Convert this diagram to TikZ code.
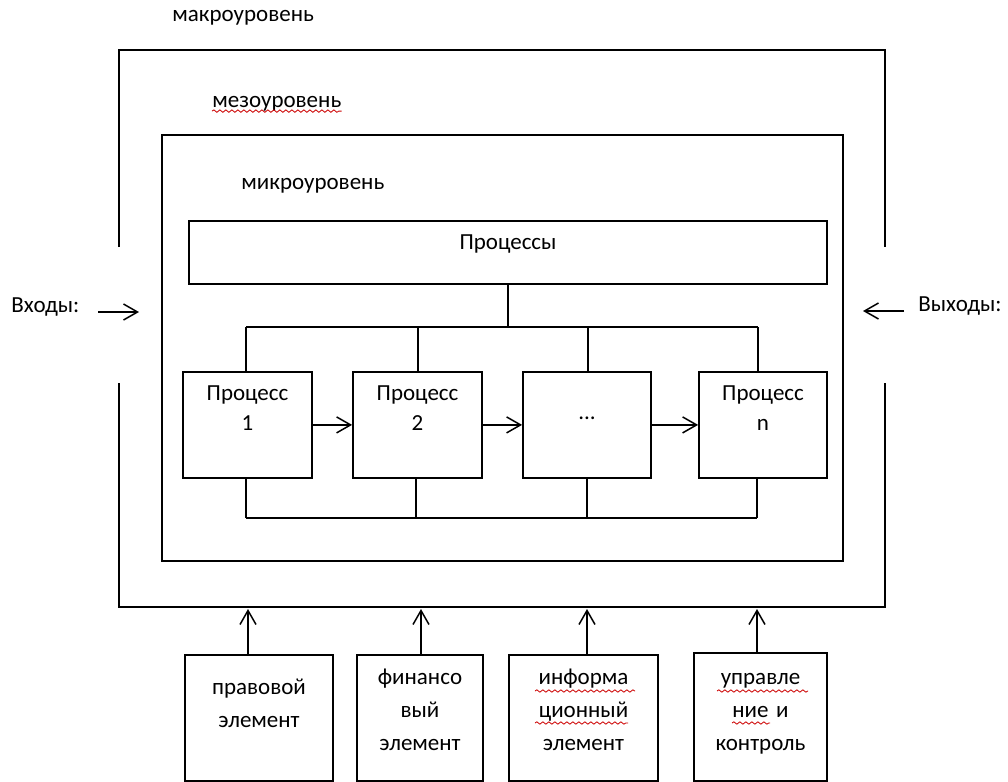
\documentclass[tikz,border=0pt]{standalone}
\usepackage{fontspec}
\setmainfont{Carlito}
\usetikzlibrary{arrows.meta,decorations.pathmorphing}

\begin{document}
\begin{tikzpicture}[x=0.5pt,y=-0.5pt]
\tikzstyle{every node}=[inner sep=0pt, align=center, font=\fontsize{11.5}{15}\selectfont]
\tikzstyle{frame}=[line width=0.9pt]
\tikzstyle{box}=[draw, line width=0.9pt, anchor=north]
\tikzstyle{elbox}=[box, font=\fontsize{11.5}{16.5}\selectfont]
\tikzstyle{arr}=[line width=0.75pt, -{Straight Barb[length=7pt,width=8pt]}]
\tikzstyle{spell}=[red!80!black, line width=0.4pt, decorate, decoration={snake, amplitude=0.6pt, segment length=3pt}]
\useasboundingbox (0,0) rectangle (1008,782);

% levels
\draw[frame] (119,247) -- (119,50) -- (885,50) -- (885,247);
\draw[frame] (119,383) -- (119,607) -- (885,607) -- (885,383);
\draw[frame] (162,135) rectangle (843,561);
\node (macro) at (172,21) [anchor=base west] {макроуровень};
\node (meso) at (212,107) [anchor=base west] {мезоуровень};
\node (micro) at (241,189) [anchor=base west] {микроуровень};
\draw[spell] (meso.south west) -- (meso.south east);

% processes
\node (procs) at (508,220) [box, text width=319pt, text height=14.5pt, text depth=17pt] {Процессы};
\node (p1) at (247.5,371) [box, text width=64.5pt, text height=14.5pt, text depth=38.5pt] {Процесс\\1};
\node (p2) at (417.5,371) [box, text width=64.5pt, text height=14.5pt, text depth=38.5pt] {Процесс\\2};
\node (p3) at (587,371) [box, text width=64pt, text height=24pt, text depth=29pt] {...};
\node (pn) at (763,371) [box, text width=64pt, text height=14.5pt, text depth=38.5pt] {Процесс\\n};

\coordinate (t1) at (246,327);
\coordinate (t2) at (418,327);
\coordinate (t3) at (588,327);
\coordinate (t4) at (758,327);
\draw[frame] (procs.south) -- (procs.south |- t1);
\draw[frame] (t1) -- (t4);
\draw[frame] (t1) -- (t1 |- p1.north);
\draw[frame] (t2) -- (t2 |- p2.north);
\draw[frame] (t3) -- (t3 |- p3.north);
\draw[frame] (t4) -- (t4 |- pn.north);

\coordinate (b1) at (246,518);
\coordinate (b2) at (416,518);
\coordinate (b3) at (587,518);
\coordinate (b4) at (757,518);
\draw[frame] (b1) -- (b4);
\draw[frame] (b1) -- (b1 |- p1.south);
\draw[frame] (b2) -- (b2 |- p2.south);
\draw[frame] (b3) -- (b3 |- p3.south);
\draw[frame] (b4) -- (b4 |- pn.south);

\draw[arr] (p1) -- (p2);
\draw[arr] (p2) -- (p3);
\draw[arr] (p3) -- (pn);

% inputs and outputs
\node (inputs) at (11,312) [anchor=base west] {Входы:};
\node (outputs) at (918,311) [anchor=base west] {Выходы:};
\coordinate (in1) at (98,312);
\coordinate (in2) at (139,312);
\coordinate (out1) at (904,311);
\coordinate (out2) at (863,311);
\draw[arr] (in1) -- (in2);
\draw[arr] (out1) -- (out2);

% elements
\node (law) at (259,654) [elbox, text width=74pt, text height=20pt, text depth=43pt] {правовой\\элемент};
\node (fin) at (420,654) [elbox, text width=63pt, text height=15pt, text depth=48pt] {финансо\\вый\\элемент};
\node (info) at (583.5,654) [elbox, text width=74.5pt, text height=15pt, text depth=48pt] {информа\\ционный\\элемент};
\node (ctrl) at (760.5,652) [elbox, text width=66.5pt, text height=16pt, text depth=48pt] {управле\\ние и\\контроль};
\draw[spell] (535,691) -- (635,691);
\draw[spell] (535,723) -- (628,723);
\draw[spell] (717,691) -- (808,691);
\draw[spell] (732,723) -- (770,723);

\coordinate (u1) at (248,609);
\coordinate (u2) at (421,609);
\coordinate (u3) at (587,609);
\coordinate (u4) at (757,609);
\draw[arr] (u1 |- law.north) -- (u1);
\draw[arr] (u2 |- fin.north) -- (u2);
\draw[arr] (u3 |- info.north) -- (u3);
\draw[arr] (u4 |- ctrl.north) -- (u4);
\end{tikzpicture}
\end{document}
